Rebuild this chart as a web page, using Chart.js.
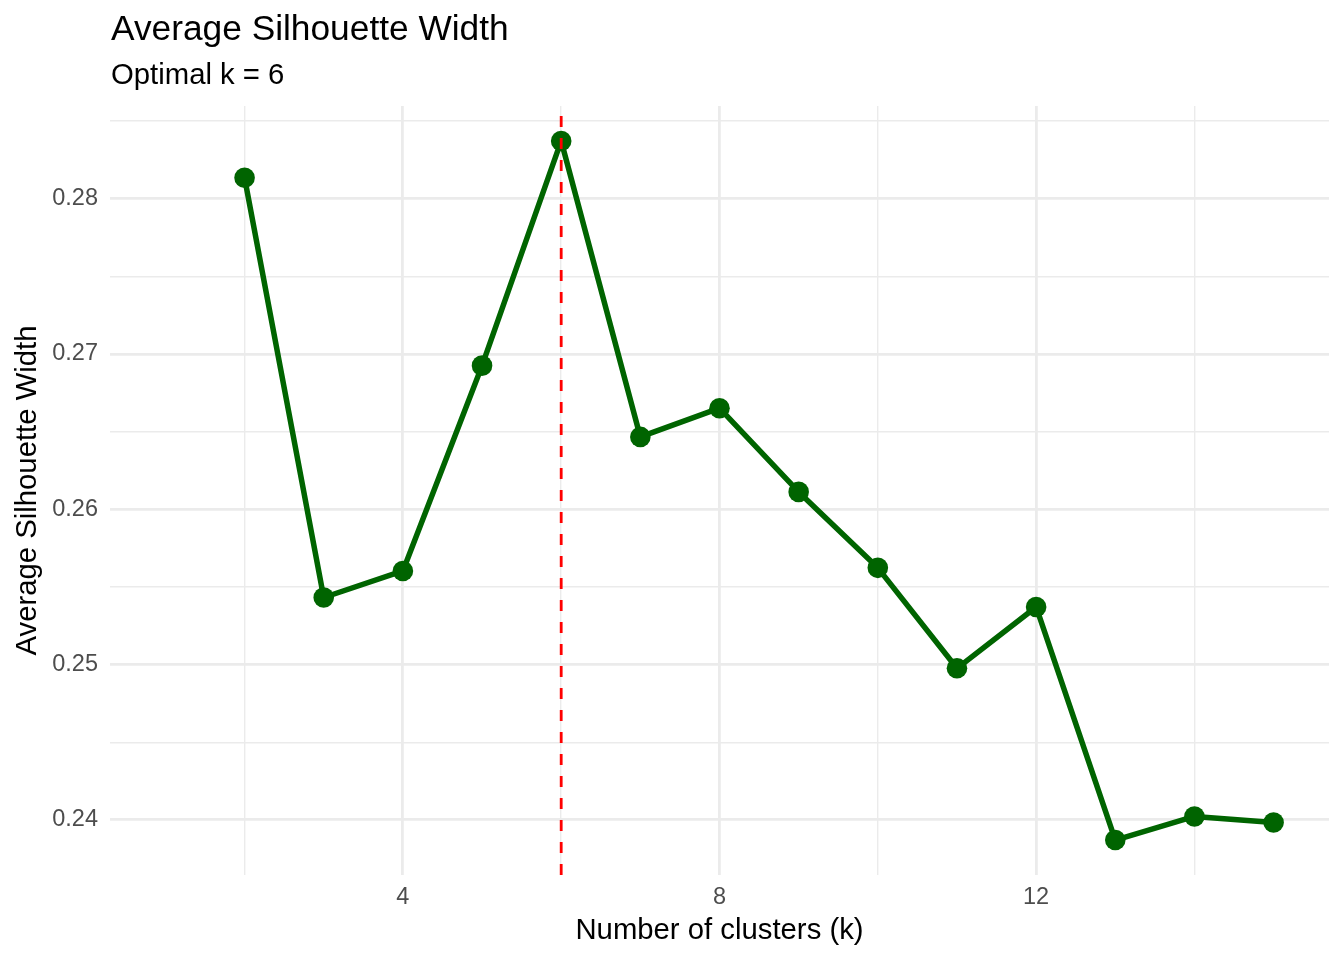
<!DOCTYPE html>
<html>
<head>
<meta charset="utf-8">
<script src="https://cdn.jsdelivr.net/npm/chart.js@4/dist/chart.umd.min.js"></script>
<style>
  html, body { margin: 0; padding: 0; background: #ffffff; }
  #wrap { width: 1344px; height: 960px; position: relative; }
</style>
</head>
<body>
<div id="wrap"><canvas id="c" width="1344" height="960"></canvas></div>
<script>
// ---- data ----
const clusterK = [2, 3, 4, 5, 6, 7, 8, 9, 10, 11, 12, 13, 14, 15];
const silhouetteWidth = [0.28135, 0.25432, 0.25603, 0.26925, 0.28372, 0.26466, 0.26651,
                         0.26112, 0.25623, 0.24976, 0.25371, 0.23870, 0.24022, 0.23983];
const optimalK = 6;
const xTickValues = [2, 4, 6, 8, 10, 12, 14];
const xTickLabels = ['', '4', '', '8', '', '12', ''];
const yTickValues = [0.24, 0.245, 0.25, 0.255, 0.26, 0.265, 0.27, 0.275, 0.28, 0.285];
const yTickLabels = ['0.24', '', '0.25', '', '0.26', '', '0.27', '', '0.28', ''];
const titleText = 'Average Silhouette Width';
const subtitleText = 'Optimal k = 6';
const xAxisTitle = 'Number of clusters (k)';
const yAxisTitle = 'Average Silhouette Width';

const FONT = '"Liberation Sans", Arial, Helvetica, sans-serif';
const GRID = '#EBEBEB';

const points = clusterK.map((k, i) => ({ x: k, y: silhouetteWidth[i] }));

const headerPlugin = {
  id: 'header',
  afterDraw(chart) {
    const ctx = chart.ctx;
    const left = chart.chartArea.left;
    ctx.save();
    ctx.fillStyle = '#000000';
    ctx.textAlign = 'left';
    ctx.textBaseline = 'alphabetic';
    ctx.font = '35.3px ' + FONT;
    ctx.fillText(titleText, left + 1, 40);
    ctx.font = '29.3px ' + FONT;
    ctx.fillText(subtitleText, left + 1, 84);
    ctx.restore();
  }
};

const vlinePlugin = {
  id: 'vline',
  afterDatasetsDraw(chart) {
    const ctx = chart.ctx;
    const x = chart.scales.x.getPixelForValue(optimalK);
    const a = chart.chartArea;
    ctx.save();
    ctx.beginPath();
    ctx.rect(a.left, a.top, a.right - a.left, a.bottom - a.top);
    ctx.clip();
    ctx.strokeStyle = '#FF0000';
    ctx.lineWidth = 2.8;
    ctx.setLineDash([11, 11]);
    ctx.lineCap = 'butt';
    ctx.beginPath();
    ctx.moveTo(x, a.bottom);
    ctx.lineTo(x, a.top);
    ctx.stroke();
    ctx.restore();
  }
};

new Chart(document.getElementById('c'), {
  type: 'line',
  data: {
    datasets: [{
      data: points,
      borderColor: '#006400',
      backgroundColor: '#006400',
      borderWidth: 5.5,
      borderJoinStyle: 'round',
      borderCapStyle: 'round',
      pointRadius: 10.3,
      pointBorderWidth: 0,
      pointBackgroundColor: '#006400',
      pointHoverRadius: 10.3,
      tension: 0,
      fill: false
    }]
  },
  options: {
    responsive: false,
    animation: false,
    events: [],
    layout: { padding: { top: 106, right: 15, bottom: 0, left: 0 } },
    plugins: {
      legend: { display: false },
      tooltip: { enabled: false },
      title: { display: false }
    },
    scales: {
      x: {
        type: 'linear',
        min: 0.3,
        max: 15.7,
        afterBuildTicks(scale) { scale.ticks = xTickValues.map(v => ({ value: v })); },
        afterFit(scale) { scale.height = 85; },
        border: { display: false },
        grid: {
          color: GRID,
          drawTicks: false,
          lineWidth: ctx => (ctx.tick && ctx.tick.value % 4 === 0) ? 2.8 : 1.4
        },
        ticks: {
          padding: 8,
          color: '#4D4D4D',
          font: { family: FONT, size: 23.5 },
          maxRotation: 0,
          autoSkip: false,
          callback: (v) => { const i = xTickValues.indexOf(v); return i >= 0 ? xTickLabels[i] : ''; }
        },
        title: {
          display: true,
          text: xAxisTitle,
          color: '#000000',
          font: { family: FONT, size: 29.3 },
          padding: { top: 0, bottom: 12 }
        }
      },
      y: {
        type: 'linear',
        min: 0.23645,
        max: 0.28597,
        afterBuildTicks(scale) { scale.ticks = yTickValues.map(v => ({ value: v })); },
        afterFit(scale) { scale.width = 110; },
        border: { display: false },
        grid: {
          color: GRID,
          drawTicks: false,
          lineWidth: ctx => {
            if (!ctx.tick) return 1.4;
            const i = yTickValues.findIndex(v => Math.abs(v - ctx.tick.value) < 1e-9);
            return (i >= 0 && yTickLabels[i] !== '') ? 2.8 : 1.4;
          }
        },
        ticks: {
          padding: 12,
          color: '#4D4D4D',
          font: { family: FONT, size: 23.5 },
          autoSkip: false,
          callback: (v) => {
            const i = yTickValues.findIndex(t => Math.abs(t - v) < 1e-9);
            return i >= 0 ? yTickLabels[i] : '';
          }
        },
        title: {
          display: true,
          text: yAxisTitle,
          color: '#000000',
          font: { family: FONT, size: 29.3 },
          padding: { top: 10, bottom: 0 }
        }
      }
    }
  },
  plugins: [headerPlugin, vlinePlugin]
});
</script>
</body>
</html>
